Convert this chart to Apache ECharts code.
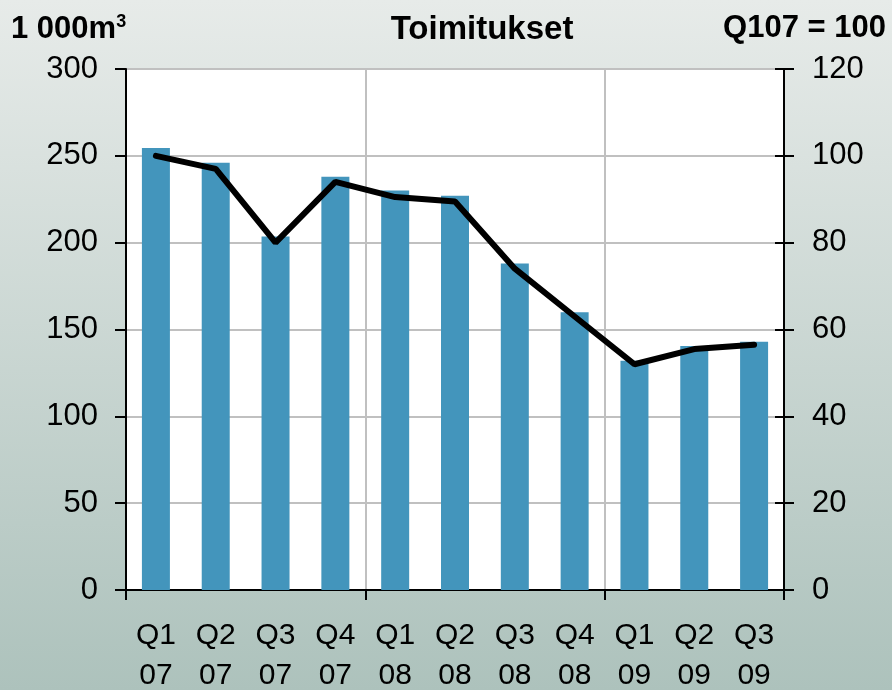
<!DOCTYPE html>
<html>
<head>
<meta charset="utf-8">
<title>Toimitukset</title>
<script src="https://cdn.jsdelivr.net/npm/echarts@6/dist/echarts.min.js"></script>
<style>
  html, body { margin: 0; padding: 0; }
  #chart { width: 892px; height: 690px; }
</style>
</head>
<body>
<div id="chart"></div>
<script>
// quarters, two-line labels
const quarters = ["Q1\n07", "Q2\n07", "Q3\n07", "Q4\n07", "Q1\n08", "Q2\n08", "Q3\n08", "Q4\n08", "Q1\n09", "Q2\n09", "Q3\n09"];
// deliveries, 1 000 m3 (left axis)
const deliveries = [254.5, 246, 203.5, 238, 230, 227, 188, 160, 132, 140.5, 143];
// index Q1 07 = 100 (right axis)
const deliveryIndex = [100, 97, 80, 94, 90.5, 89.5, 74, 63, 52, 55.5, 56.5];

const font = "Arial, 'Liberation Sans', sans-serif";
const yearTick = function (index) {
  return index % 4 === 0;
};

var myChart = echarts.init(document.getElementById("chart"));
var option = {
  backgroundColor: new echarts.graphic.LinearGradient(0, 0, 0, 1, [
    { offset: 0, color: "#e7ebe9" },
    { offset: 1, color: "#adc2bc" },
  ]),
  textStyle: { fontFamily: font },
  title: [
    {
      text: "{a|1 000m}{b|3}",
      left: 11,
      top: 13,
      padding: 0,
      textStyle: {
        rich: {
          a: { fontSize: 31, fontWeight: "bold", color: "#000", fontFamily: font },
          b: { fontSize: 18, fontWeight: "bold", color: "#000", fontFamily: font, padding: [0, 0, 14, 0] },
        },
      },
    },
    {
      text: "Toimitukset",
      left: 482,
      textAlign: "center",
      top: 13,
      padding: 0,
      textStyle: { fontSize: 33, fontWeight: "bold", color: "#000", fontFamily: font },
    },
    {
      text: "Q107 = 100",
      right: 6,
      top: 13,
      padding: 0,
      textStyle: { fontSize: 31, fontWeight: "bold", color: "#000", fontFamily: font },
    },
  ],
  grid: {
    left: 126,
    right: 108,
    top: 69,
    bottom: 100,
    outerBoundsMode: "none",
    containLabel: false,
    show: true,
    backgroundColor: "#ffffff",
    borderWidth: 0,
  },
  xAxis: {
    type: "category",
    data: quarters,
    boundaryGap: true,
    axisLine: { lineStyle: { color: "#000", width: 2 } },
    axisTick: { show: true, interval: yearTick, length: 10, lineStyle: { color: "#000", width: 2 } },
    splitLine: { show: true, interval: yearTick, lineStyle: { color: "#c0c0c0", width: 2 } },
    axisLabel: {
      interval: 0,
      color: "#000",
      fontSize: 30,
      lineHeight: 40,
      margin: 26,
    },
  },
  yAxis: [
    {
      type: "value",
      min: 0,
      max: 300,
      interval: 50,
      position: "left",
      axisLine: { show: true, lineStyle: { color: "#000", width: 2 } },
      axisTick: { show: true, length: 11, lineStyle: { color: "#000", width: 2 } },
      splitLine: { show: true, lineStyle: { color: "#c0c0c0", width: 2 } },
      axisLabel: { color: "#000", fontSize: 31, margin: 28 },
    },
    {
      type: "value",
      min: 0,
      max: 120,
      interval: 20,
      position: "right",
      offset: 0,
      axisLine: { show: true, lineStyle: { color: "#000", width: 2 } },
      axisTick: { show: true, length: 10, lineStyle: { color: "#000", width: 2 } },
      splitLine: { show: false },
      axisLabel: { color: "#000", fontSize: 31, margin: 28 },
    },
    {
      // inner half of the crossing ticks on the right axis
      type: "value",
      min: 0,
      max: 120,
      interval: 20,
      position: "right",
      offset: 0,
      axisLine: { show: false },
      axisTick: { show: true, inside: true, length: 9, lineStyle: { color: "#000", width: 2 } },
      splitLine: { show: false },
      axisLabel: { show: false },
    },
  ],
  series: [
    {
      name: "1 000m3",
      type: "bar",
      data: deliveries,
      yAxisIndex: 0,
      barWidth: 28,
      itemStyle: { color: "#4395bc" },
      z: 2,
    },
    {
      name: "Q107 = 100",
      type: "line",
      data: deliveryIndex,
      yAxisIndex: 1,
      symbol: "none",
      lineStyle: { color: "#000", width: 6, cap: "round" },
      z: 3,
    },
  ],
  animation: false,
};
myChart.setOption(option, true);
window.addEventListener("resize", function () {
  myChart.resize();
});
</script>
</body>
</html>
